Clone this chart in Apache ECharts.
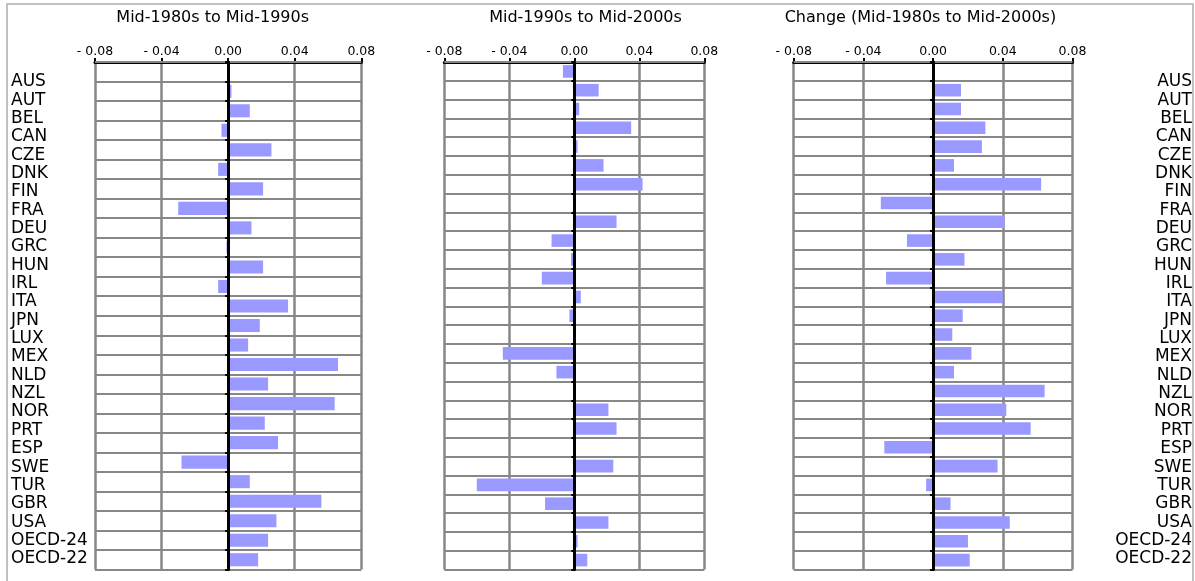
<!DOCTYPE html>
<html>
<head>
<meta charset="utf-8">
<title>Change in Gini coefficients</title>
<script src="https://cdn.jsdelivr.net/npm/echarts@6/dist/echarts.min.js"></script>
<style>
  html, body { margin: 0; padding: 0; background: #ffffff; }
  #chart { width: 1195px; height: 581px; }
</style>
</head>
<body>
<div id="chart"></div>
<script>
// Country codes listed down both sides of the figure
const countries = ['AUS', 'AUT', 'BEL', 'CAN', 'CZE', 'DNK', 'FIN', 'FRA', 'DEU', 'GRC',
  'HUN', 'IRL', 'ITA', 'JPN', 'LUX', 'MEX', 'NLD', 'NZL', 'NOR', 'PRT', 'ESP', 'SWE',
  'TUR', 'GBR', 'USA', 'OECD-24', 'OECD-22'];

// First panel has one row fewer than the others
const rows1980s = countries.slice(0, 26);
const rows1990s = countries;
const rowsChange = countries;

// Change in Gini coefficient, mid-1980s to mid-1990s
const change1985to1995 = [null, 0.002, 0.013, -0.004, 0.026, -0.006, 0.021, -0.030, 0.014, -0.001,
  0.021, -0.006, 0.036, 0.019, 0.012, 0.066, 0.024, 0.064, 0.022, 0.030, -0.028, 0.013,
  0.056, 0.029, 0.024, 0.018];

// Change in Gini coefficient, mid-1990s to mid-2000s
const change1995to2005 = [-0.007, 0.015, 0.003, 0.035, 0.002, 0.018, 0.042, 0, 0.026, -0.014,
  -0.002, -0.020, 0.004, -0.003, 0, -0.044, -0.011, 0, 0.021, 0.026, 0, 0.024,
  -0.060, -0.018, 0.021, 0.002, 0.008];

// Change in Gini coefficient, mid-1980s to mid-2000s
const change1985to2005 = [null, 0.016, 0.016, 0.030, 0.028, 0.012, 0.062, -0.030, 0.041, -0.015,
  0.018, -0.027, 0.040, 0.017, 0.011, 0.022, 0.012, 0.064, 0.042, 0.056, -0.028, 0.037,
  -0.004, 0.010, 0.044, 0.020, 0.021];

const xTicks = [-0.08, -0.04, 0, 0.04, 0.08];

const panelTitles = ['Mid-1980s to Mid-1990s', 'Mid-1990s to Mid-2000s', 'Change (Mid-1980s to Mid-2000s)'];

const FONT = 'DejaVu Sans';
const BAR = '#9999ff';
const GRIDLINE = '#878787';

const panels = [
  { rows: rows1980s, values: change1985to1995, title: panelTitles[0], left: 95, width: 266.3, titleX: 207.7 },
  { rows: rows1990s, values: change1995to2005, title: panelTitles[1], left: 444.3, width: 260, titleX: 580.5 },
  { rows: rowsChange, values: change1985to2005, title: panelTitles[2], left: 793.7, width: 278.8, titleX: 915.4 }
];
const plotTop = 62;
const plotHeight = 507.5;

function tickText(v) {
  if (Math.abs(v) < 1e-9) return '0.00';
  return (v < 0 ? '- ' : '') + Math.abs(v).toFixed(2);
}

const grid = [], xAxis = [], yAxis = [], series = [], title = [];

panels.forEach((p, i) => {
  grid.push({ left: p.left, top: plotTop, width: p.width, height: plotHeight, containLabel: false });
  xAxis.push({
    type: 'value', gridIndex: i, position: 'top',
    min: xTicks[0], max: xTicks[xTicks.length - 1], interval: xTicks[1] - xTicks[0],
    axisLine: { show: true, onZero: false, lineStyle: { color: '#000', width: 3 } },
    axisTick: { show: true, length: 4, lineStyle: { color: '#000', width: 2 } },
    axisLabel: { formatter: tickText, color: '#000', fontFamily: FONT, fontSize: 12.5, margin: 4 },
    splitLine: { show: true, lineStyle: { color: GRIDLINE, width: 2.5 } }
  });
  yAxis.push({
    type: 'category', gridIndex: i, data: p.rows, inverse: true, z: 3,
    axisLine: { show: true, onZero: true, lineStyle: { color: '#000', width: 3 } },
    axisTick: { show: true, length: 3, interval: 0, lineStyle: { color: '#000', width: 2 } },
    axisLabel: { show: false },
    splitLine: { show: true, interval: 0, lineStyle: { color: GRIDLINE, width: 2 } }
  });
  series.push({
    type: 'bar', xAxisIndex: i, yAxisIndex: i, data: p.values,
    barCategoryGap: '33%',
    itemStyle: { color: BAR },
    silent: true
  });
  title.push({
    text: p.title, left: p.titleX, top: 5, textAlign: 'center',
    textStyle: { fontFamily: FONT, fontSize: 16, fontWeight: 'normal', color: '#000' }
  });
});

// Country labels down the left edge and the right edge
const labelTop = 72.6, labelHeight = 495.4;
grid.push({ left: 11, top: labelTop, width: 60, height: labelHeight });
grid.push({ right: 3, top: labelTop, width: 60, height: labelHeight });
[3, 4].forEach((g) => {
  xAxis.push({ type: 'value', gridIndex: g, show: false });
  yAxis.push({
    type: 'category', gridIndex: g, data: countries, inverse: true,
    position: g === 3 ? 'left' : 'right',
    axisLine: { show: false }, axisTick: { show: false }, splitLine: { show: false },
    axisLabel: {
      interval: 0, margin: 0, align: g === 3 ? 'left' : 'right',
      color: '#000', fontFamily: FONT, fontSize: 17
    }
  });
});

const chart = echarts.init(document.getElementById('chart'), null, { renderer: 'canvas' });
chart.setOption({
  animation: false,
  backgroundColor: '#ffffff',
  title: title,
  grid: grid,
  xAxis: xAxis,
  yAxis: yAxis,
  series: series,
  graphic: [{
    type: 'rect', silent: true, z: -1,
    shape: { x: 7, y: 4, width: 1186, height: 700 },
    style: { fill: 'none', stroke: '#c0c0c0', lineWidth: 2 }
  }]
});
</script>
</body>
</html>
